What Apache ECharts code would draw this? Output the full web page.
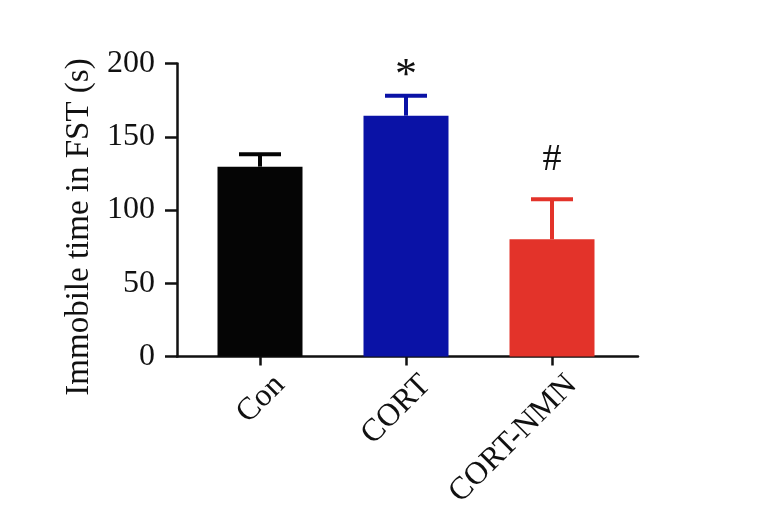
<!DOCTYPE html>
<html>
<head>
<meta charset="utf-8">
<script src="https://cdn.jsdelivr.net/npm/echarts@6/dist/echarts.min.js"></script>
<style>html,body{margin:0;padding:0;background:#fff;}#c{width:764px;height:520px;}</style>
</head>
<body>
<div id="c"></div>
<script>
var categories = ['Con', 'CORT', 'CORT-NMN'];
var means = [129.6, 164.4, 80.0];
var errors = [8.4, 13.6, 27.3];
var marks = ['', '*', '#'];
var yTicks = [0, 50, 100, 150, 200];

var barColors = ['#050505', '#0a12a6', '#e3332a'];
var markStyle = { '*': { gap: 19, size: 44 }, '#': { gap: 39, size: 38 } };
var serif = '"Liberation Serif", "Times New Roman", serif';

var chart = echarts.init(document.getElementById('c'));
var grids = [
  { left: 177, right: 126, top: 63.5, bottom: 163.5, outerBoundsMode: 'none', containLabel: false },
  { left: 187, right: 139, top: 63.5, bottom: 163.5, outerBoundsMode: 'none', containLabel: false }
];
chart.setOption({
  animation: false,
  backgroundColor: '#fff',
  grid: grids,
  xAxis: [
    { gridIndex: 0, type: 'value', min: 0, max: 1,
      axisLine: { show: true, onZero: false, lineStyle: { color: '#111', width: 2.5 } },
      axisTick: { show: false }, axisLabel: { show: false }, splitLine: { show: false } },
    { gridIndex: 1, type: 'category', data: categories, boundaryGap: true,
      axisLine: { show: false },
      axisTick: { show: true, alignWithLabel: true, length: 9, lineStyle: { color: '#111', width: 2.5 } },
      axisLabel: { rotate: 45, margin: 4, fontFamily: serif, fontSize: 32, lineHeight: 56, color: '#111',
        verticalAlign: 'top', align: 'right', interval: 0 } }
  ],
  yAxis: [
    { gridIndex: 0, type: 'value', min: yTicks[0], max: yTicks[yTicks.length - 1], interval: 50,
      name: 'Immobile time in FST (s)', nameLocation: 'middle', nameGap: 78,
      nameTextStyle: { fontFamily: serif, fontSize: 33, color: '#111', padding: [0, 34, 0, 0] },
      axisLine: { show: true, lineStyle: { color: '#111', width: 2.5 } },
      axisTick: { show: true, length: 12, lineStyle: { color: '#111', width: 2.5 } },
      axisLabel: { margin: 22, fontFamily: serif, fontSize: 32, color: '#111' },
      splitLine: { show: false } },
    { gridIndex: 1, type: 'value', min: yTicks[0], max: yTicks[yTicks.length - 1], interval: 50,
      show: false, splitLine: { show: false } }
  ],
  series: [
    { type: 'bar', xAxisIndex: 1, yAxisIndex: 1, barWidth: 85,
      data: means.map(function (v, i) { return { value: v, itemStyle: { color: barColors[i] } }; }),
      z: 2 },
    { type: 'custom', xAxisIndex: 1, yAxisIndex: 1, z: 3,
      data: means.map(function (v, i) { return [i, v, v + errors[i]]; }),
      renderItem: function (params, api) {
        var i = api.value(0);
        var p0 = api.coord([i, api.value(1)]);
        var p1 = api.coord([i, api.value(2)]);
        var half = 21;
        var col = barColors[i];
        var children = [
          { type: 'line', shape: { x1: p0[0], y1: p0[1], x2: p1[0], y2: p1[1] },
            style: { stroke: col, lineWidth: 4 } },
          { type: 'line', shape: { x1: p1[0] - half, y1: p1[1], x2: p1[0] + half, y2: p1[1] },
            style: { stroke: col, lineWidth: 4 } }
        ];
        var m = marks[i];
        if (m) {
          var ms = markStyle[m];
          children.push({ type: 'text', x: p1[0], y: p1[1] - ms.gap,
            style: { text: m, fill: '#111', font: ms.size + 'px ' + serif, textAlign: 'center', textVerticalAlign: 'middle' } });
        }
        return { type: 'group', children: children };
      } }
  ]
});
</script>
</body>
</html>
